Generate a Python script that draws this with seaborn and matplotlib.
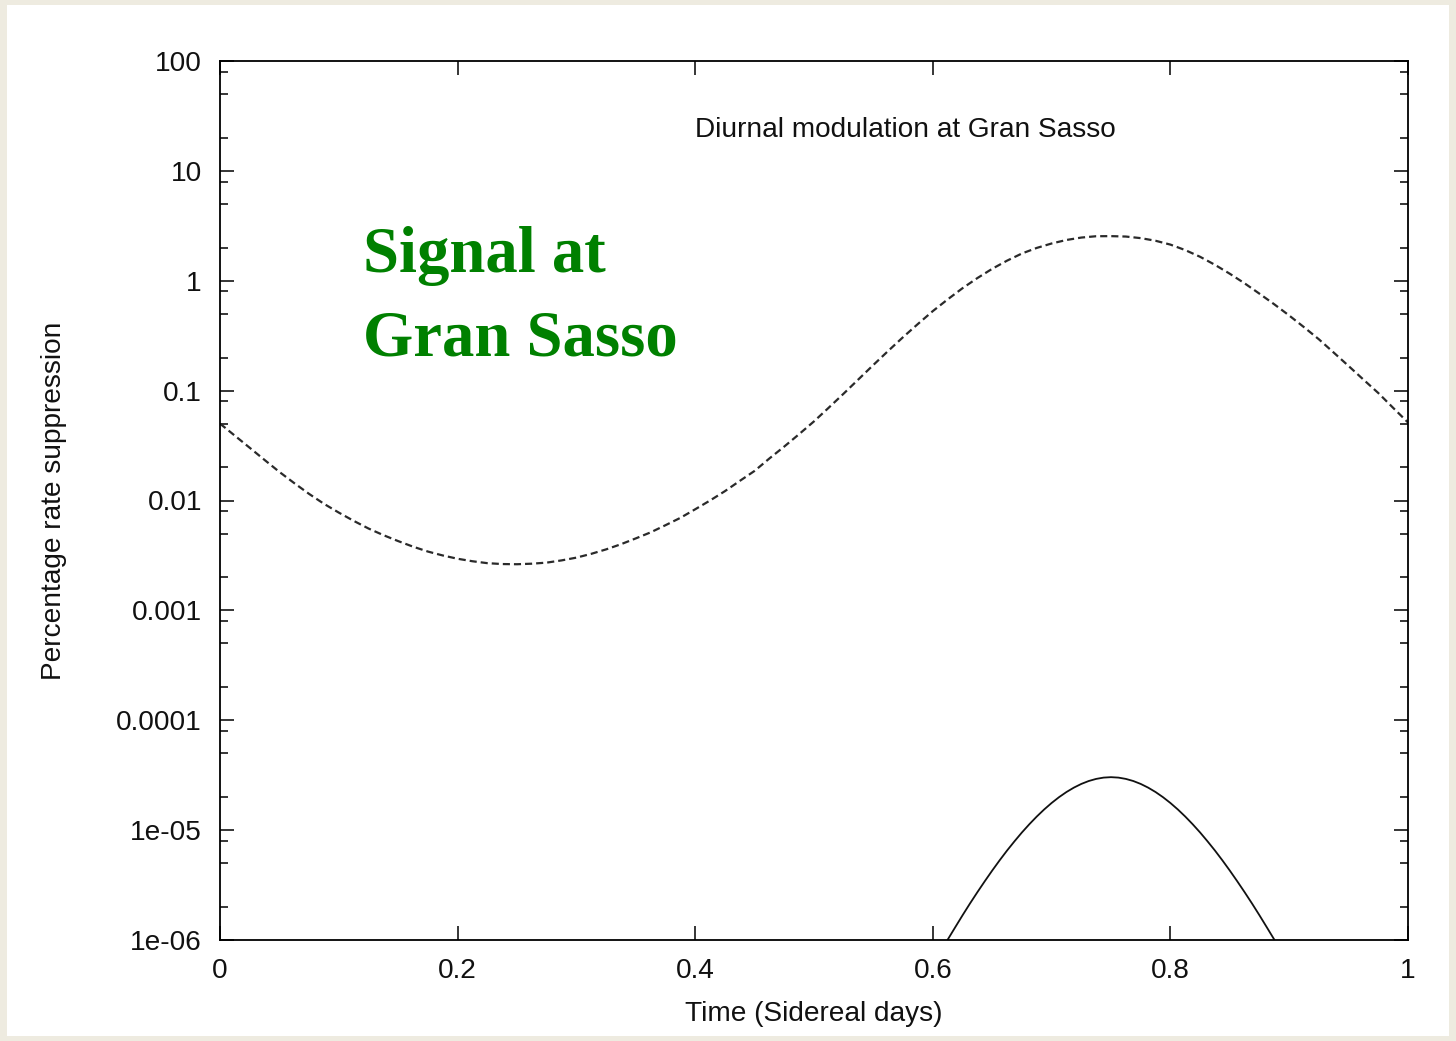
import numpy as np
import pandas as pd
import matplotlib
matplotlib.use("Agg")
import matplotlib.pyplot as plt
from matplotlib.patches import Rectangle
from matplotlib.ticker import LogLocator, NullFormatter, FixedLocator, FixedFormatter
import seaborn as sns

# ---------------- data ----------------
time_dashed = [0.0000, 0.0125, 0.0250, 0.0375, 0.0500, 0.0625, 0.0750, 0.0875, 0.1000, 0.1125,
               0.1250, 0.1375, 0.1500, 0.1625, 0.1750, 0.1875, 0.2000, 0.2125, 0.2250, 0.2375,
               0.2500, 0.2625, 0.2750, 0.2875, 0.3000, 0.3125, 0.3250, 0.3375, 0.3500, 0.3625,
               0.3750, 0.3875, 0.4000, 0.4125, 0.4250, 0.4375, 0.4500, 0.4625, 0.4750, 0.4875,
               0.5000, 0.5125, 0.5250, 0.5375, 0.5500, 0.5625, 0.5750, 0.5875, 0.6000, 0.6125,
               0.6250, 0.6375, 0.6500, 0.6625, 0.6750, 0.6875, 0.7000, 0.7125, 0.7250, 0.7375,
               0.7500, 0.7625, 0.7750, 0.7875, 0.8000, 0.8125, 0.8250, 0.8375, 0.8500, 0.8625,
               0.8750, 0.8875, 0.9000, 0.9125, 0.9250, 0.9375, 0.9500, 0.9625, 0.9750, 0.9875,
               1.0000]
rate_dashed = [0.0501, 0.0389, 0.0302, 0.0234, 0.0182, 0.01439, 0.01148, 0.00933, 0.00776, 0.00653,
               0.00556, 0.00484, 0.00427, 0.00380, 0.00343, 0.00316, 0.00295, 0.00280, 0.00269, 0.00264,
               0.00263, 0.00266, 0.00272, 0.00285, 0.00302, 0.00327, 0.00359, 0.00400, 0.00452, 0.00513,
               0.00596, 0.00695, 0.00832, 0.0100, 0.01216, 0.01507, 0.0186, 0.02415, 0.0310, 0.0402,
               0.0525, 0.0701, 0.0940, 0.1269, 0.1714, 0.2301, 0.3069, 0.4046, 0.5292, 0.6765,
               0.8551, 1.0575, 1.2845, 1.5236, 1.770, 1.990, 2.183, 2.350, 2.472, 2.542,
               2.547, 2.525, 2.443, 2.312, 2.133, 1.901, 1.652, 1.396, 1.158, 0.9469,
               0.7621, 0.6099, 0.4826, 0.3776, 0.2931, 0.2218, 0.1675, 0.1260, 0.0951, 0.0697,
               0.0513]

time_solid = [0.60000, 0.60625, 0.61250, 0.61875, 0.62500, 0.63125, 0.63750, 0.64375, 0.65000,
              0.65625, 0.66250, 0.66875, 0.67500, 0.68125, 0.68750, 0.69375, 0.70000, 0.70625,
              0.71250, 0.71875, 0.72500, 0.73125, 0.73750, 0.74375, 0.75000, 0.75625, 0.76250,
              0.76875, 0.77500, 0.78125, 0.78750, 0.79375, 0.80000, 0.80625, 0.81250, 0.81875,
              0.82500, 0.83125, 0.83750, 0.84375, 0.85000, 0.85625, 0.86250, 0.86875, 0.87500,
              0.88125, 0.88750, 0.89375, 0.90000]
rate_solid = [5.92e-7, 7.74e-7, 1.006e-6, 1.300e-6, 1.676e-6, 2.145e-6, 2.721e-6, 3.426e-6, 4.285e-6,
              5.31e-6, 6.52e-6, 7.91e-6, 9.52e-6, 1.131e-5, 1.329e-5, 1.542e-5, 1.766e-5, 1.995e-5,
              2.222e-5, 2.437e-5, 2.633e-5, 2.799e-5, 2.925e-5, 3.006e-5, 3.034e-5, 3.006e-5, 2.925e-5,
              2.799e-5, 2.633e-5, 2.437e-5, 2.222e-5, 1.995e-5, 1.766e-5, 1.542e-5, 1.329e-5, 1.131e-5,
              9.52e-6, 7.91e-6, 6.52e-6, 5.31e-6, 4.285e-6, 3.426e-6, 2.721e-6, 2.145e-6, 1.676e-6,
              1.300e-6, 1.006e-6, 7.74e-7, 5.92e-7]

y_ticks = [1e2, 1e1, 1e0, 1e-1, 1e-2, 1e-3, 1e-4, 1e-5, 1e-6]
y_tick_labels = ["100", "10", "1", "0.1", "0.01", "0.001", "0.0001", "1e-05", "1e-06"]
x_ticks = [0, 0.2, 0.4, 0.6, 0.8, 1.0]
x_tick_labels = ["0", "0.2", "0.4", "0.6", "0.8", "1"]

title_text = "Diurnal modulation at Gran Sasso"
xlabel = "Time (Sidereal days)"
ylabel = "Percentage rate suppression"
overlay_lines = ["Signal at", "Gran Sasso"]

df_dashed = pd.DataFrame({"t": time_dashed, "r": rate_dashed})
df_solid = pd.DataFrame({"t": time_solid, "r": rate_solid})

# ---------------- figure ----------------
sns.set_theme(style="white")
plt.rcParams["font.family"] = ["Liberation Sans", "DejaVu Sans"]

W, H = 1456, 1041
FS = 20.2
fig = plt.figure(figsize=(W / 100, H / 100), dpi=100)
fig.patch.set_facecolor("#EEEBE0")
fig.patches.append(Rectangle((7 / W, 5 / H), (1449 - 7) / W, (1036 - 5) / H,
                             transform=fig.transFigure, facecolor="white",
                             edgecolor="none", zorder=-10))

L, R, T, B = 220, 1408, 61, 940
ax = fig.add_axes([L / W, 1 - B / H, (R - L) / W, (B - T) / H])
ax.set_facecolor("white")

sns.lineplot(data=df_dashed, x="t", y="r", ax=ax, color="#2a2a2a",
             linewidth=1.6, linestyle=(0, (3.2, 1.8)))
sns.lineplot(data=df_solid, x="t", y="r", ax=ax, color="#111111", linewidth=1.3)

ax.set_yscale("log")
ax.set_xlim(0, 1)
ax.set_ylim(1e-6, 1e2)

ax.yaxis.set_major_locator(FixedLocator(y_ticks))
ax.yaxis.set_major_formatter(FixedFormatter(y_tick_labels))
ax.yaxis.set_minor_locator(LogLocator(base=10, subs=[2, 5, 8], numticks=20))
ax.yaxis.set_minor_formatter(NullFormatter())
ax.xaxis.set_major_locator(FixedLocator(x_ticks))
ax.xaxis.set_major_formatter(FixedFormatter(x_tick_labels))

for s in ax.spines.values():
    s.set_visible(True)
    s.set_color("black")
    s.set_linewidth(1.3)

ax.tick_params(axis="both", which="major", direction="in", length=10, width=1.1,
               color="black", labelsize=FS, labelcolor="#111111", pad=13,
               top=True, right=True, left=True, bottom=True)
ax.tick_params(axis="y", which="minor", direction="in", length=5.5, width=1.1,
               color="black", left=True, right=True)
ax.tick_params(axis="x", which="minor", bottom=False, top=False)

ax.set_xlabel(xlabel, fontsize=FS, color="#111111")
ax.set_ylabel(ylabel, fontsize=FS, color="#111111")
ax.xaxis.set_label_coords(0.5, (B - 1001) / (B - T))
ax.yaxis.set_label_coords((67 - L) / (R - L), 0.5)

ax.text((695 - L) / (R - L), (B - 130) / (B - T), title_text, transform=ax.transAxes,
        ha="left", va="center", fontsize=FS, color="#111111")

fig.text(363 / W, 1 - 272 / H, overlay_lines[0], ha="left", va="baseline",
         fontsize=46.5, fontweight="bold", color="#008000", family="Liberation Serif")
fig.text(363 / W, 1 - 355 / H, overlay_lines[1], ha="left", va="baseline",
         fontsize=46.5, fontweight="bold", color="#008000", family="Liberation Serif")

fig.savefig("out.png", dpi=100, facecolor=fig.get_facecolor())
